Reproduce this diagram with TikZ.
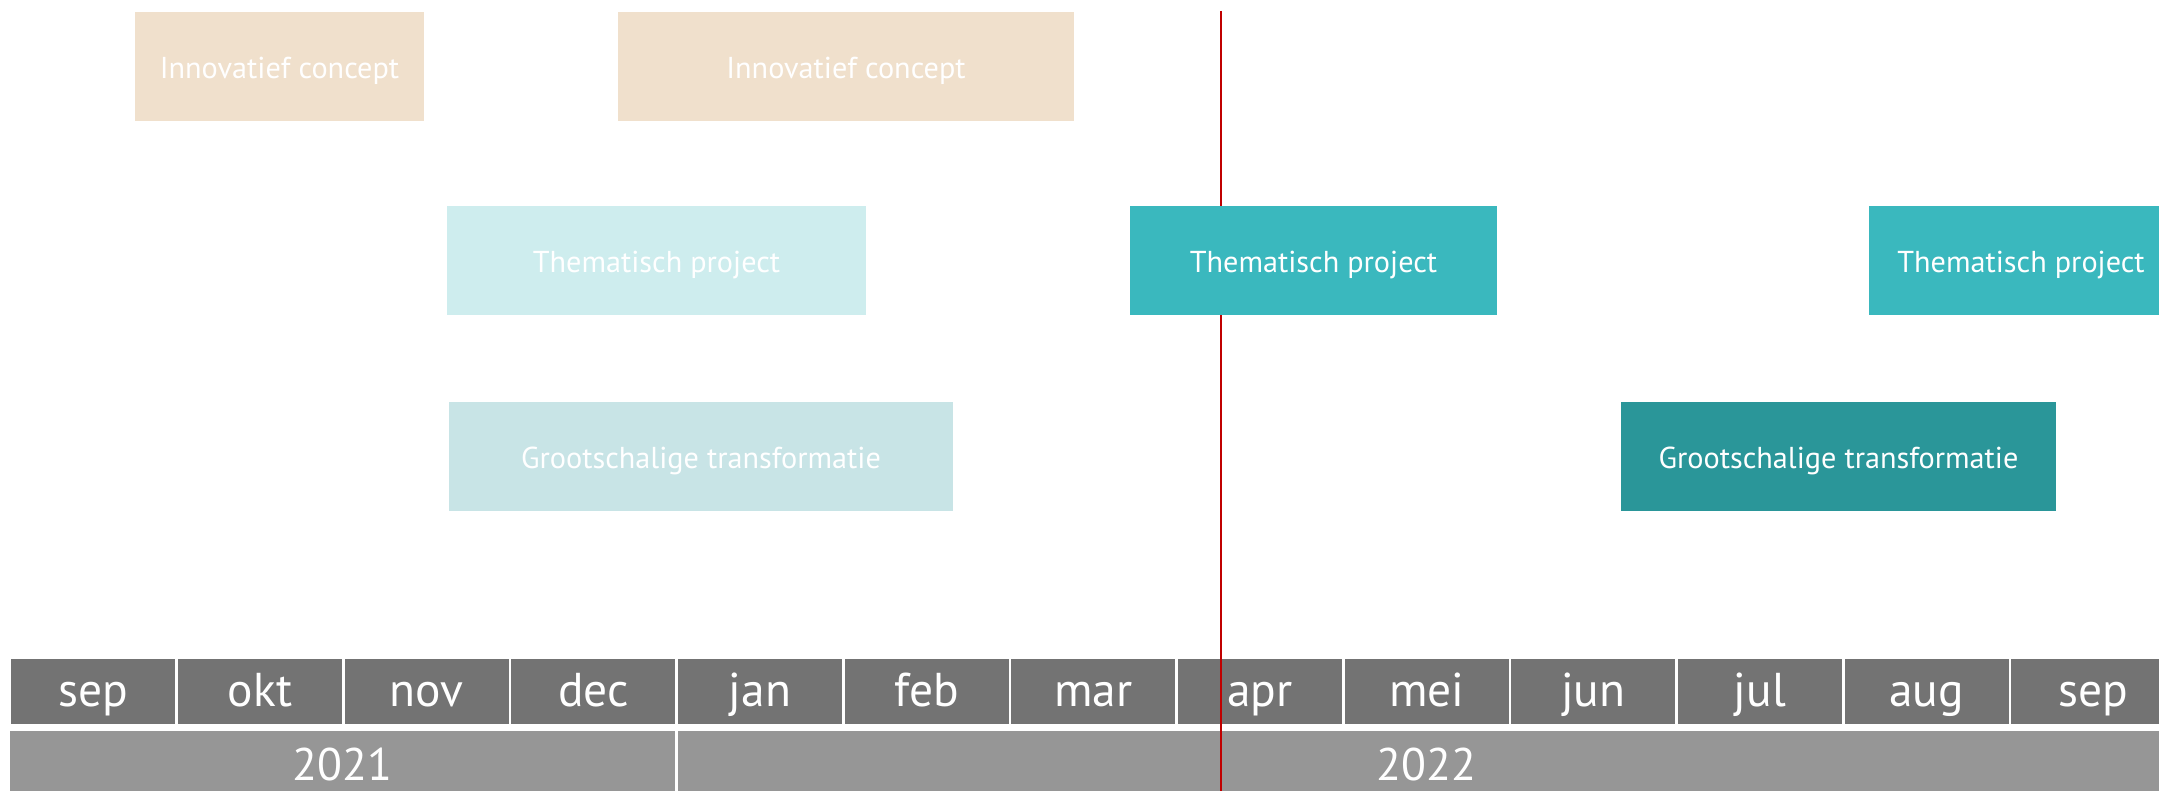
\documentclass[tikz,border=0pt]{standalone}
\usepackage{fontspec}
\setmainfont{PT Sans}
\usepackage{tikz}

\definecolor{conceptbeige}{HTML}{F0E0CC}
\definecolor{themapale}{HTML}{CEEDEE}
\definecolor{thema}{HTML}{3AB8BE}
\definecolor{grootpale}{HTML}{C8E4E6}
\definecolor{groot}{HTML}{2A9699}
\definecolor{monthgray}{HTML}{737373}
\definecolor{yeargray}{HTML}{969696}
\definecolor{nowred}{HTML}{C00000}

\tikzset{
  bar/.style={rectangle, inner sep=0pt, minimum height=1.09cm, text=white,
    text height=0.24cm, text depth=0cm, font=\fontsize{8.6}{10}\selectfont},
  month/.style={rectangle, fill=monthgray, inner sep=0pt, minimum width=1.637cm,
    minimum height=0.65cm, text=white, text height=0.30cm, text depth=0cm,
    font=\fontsize{13.5}{15}\selectfont},
  year/.style={rectangle, fill=yeargray, inner sep=0pt, minimum height=0.60cm,
    text=white, text height=0.40cm, text depth=0cm, font=\fontsize{13}{15}\selectfont}
}

\begin{document}
\begin{tikzpicture}
      \clip (0, 0) rectangle (21.59, 7.91);

      % months
      \node[month] (m1) at (0.933, 0.995) {sep};
      \node[month] (m2) at (2.600, 0.995) {okt};
      \node[month] (m3) at (4.267, 0.995) {nov};
      \node[month] (m4) at (5.933, 0.995) {dec};
      \node[month] (m5) at (7.600, 0.995) {jan};
      \node[month] (m6) at (9.267, 0.995) {feb};
      \node[month] (m7) at (10.933, 0.995) {mar};
      \node[month] (m8) at (12.600, 0.995) {apr};
      \node[month] (m9) at (14.267, 0.995) {mei};
      \node[month] (m10) at (15.933, 0.995) {jun};
      \node[month] (m11) at (17.600, 0.995) {jul};
      \node[month] (m12) at (19.267, 0.995) {aug};
      \node[month] (m13) at (20.933, 0.995) {sep};

      % years
      \node[year, minimum width=6.65cm] (y21) at (3.425, 0.30) {2021};
      \node[year, minimum width=14.97cm] (y22) at (14.265, 0.30) {2022};

      % today
      \coordinate (nowtop) at (12.21, 7.80);
      \coordinate (nowbot) at (12.21, 0);
      \draw[nowred, line width=0.5pt] (nowtop) -- (nowbot);

      \node[bar, fill=conceptbeige, minimum width=2.89cm] (icA) at (2.795, 7.245) {Innovatief concept};
      \node[bar, fill=conceptbeige, minimum width=4.56cm] (icB) at (8.46, 7.245) {Innovatief concept};

      \node[bar, fill=themapale, minimum width=4.19cm] (tpA) at (6.565, 5.30) {Thematisch project};
      \node[bar, fill=thema, minimum width=3.67cm] (tpB) at (13.135, 5.30) {Thematisch project};
      \node[bar, fill=thema, minimum width=3.04cm] (tpC) at (20.21, 5.30) {Thematisch project};

      \node[bar, fill=grootpale, minimum width=5.04cm] (gtA) at (7.01, 3.345) {Grootschalige transformatie};
      \node[bar, fill=groot, minimum width=4.35cm] (gtB) at (18.385, 3.345) {Grootschalige transformatie};
    \end{tikzpicture}
\end{document}
